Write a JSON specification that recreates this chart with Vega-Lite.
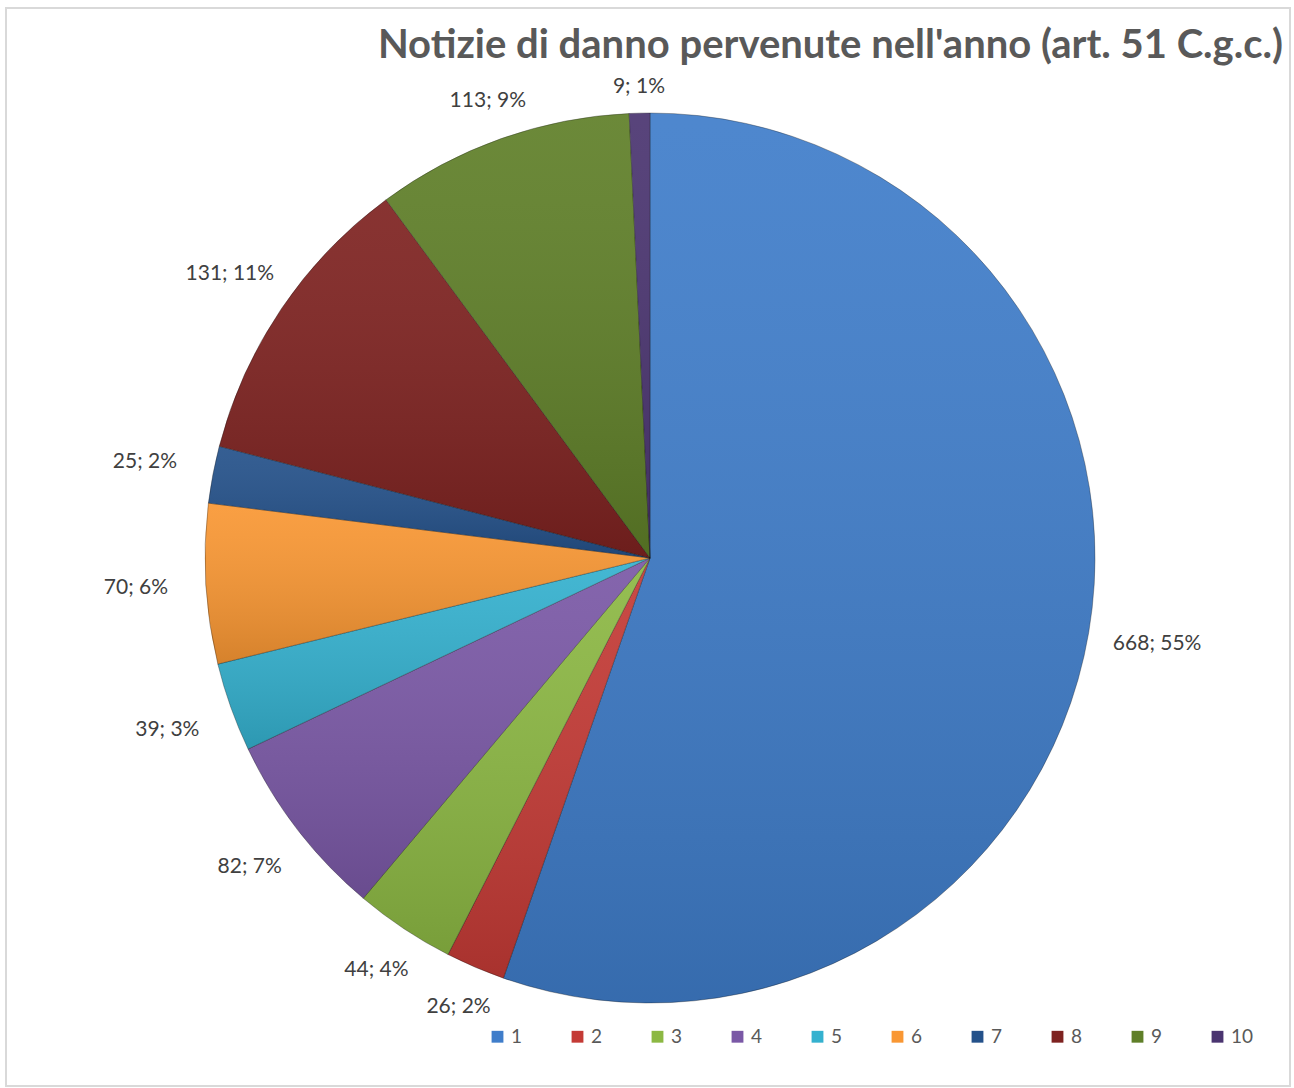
{
  "$schema": "https://vega.github.io/schema/vega-lite/v6.json",
  "width": 1294,
  "height": 1088,
  "autosize": {"type": "fit", "contains": "padding"},
  "padding": {"left": 6, "top": 8, "right": 4, "bottom": 2},
  "background": "white",
  "config": {"view": {"stroke": "#D9D9D9", "strokeWidth": 2}},
  "title": {
    "text": "Notizie di danno pervenute nell'anno (art. 51 C.g.c.)",
    "anchor": "end",
    "fontSize": 40,
    "fontWeight": "bold",
    "font": "Lato",
    "color": "#595959",
    "offset": -58,
    "dx": -7
  },
  "data": {
    "values": [
      {"cat": 1, "value": 668},
      {"cat": 2, "value": 26},
      {"cat": 3, "value": 44},
      {"cat": 4, "value": 82},
      {"cat": 5, "value": 39},
      {"cat": 6, "value": 70},
      {"cat": 7, "value": 25},
      {"cat": 8, "value": 131},
      {"cat": 9, "value": 113},
      {"cat": 10, "value": 9}
    ]
  },
  "transform": [
    {"joinaggregate": [{"op": "sum", "field": "value", "as": "total"}]},
    {"calculate": "datum.value + '; ' + format(datum.value / datum.total, '.0%')", "as": "label"}
  ],
  "encoding": {
    "theta": {"field": "value", "type": "quantitative", "stack": true},
    "order": {"field": "cat", "type": "quantitative"}
  },
  "layer": [
    {
      "mark": {"type": "arc", "outerRadius": 445, "stroke": "rgba(0,0,0,0.3)", "strokeWidth": 1},
      "encoding": {
        "x": {"value": 644},
        "y": {"value": 550},
        "color": {
          "field": "cat",
          "type": "ordinal",
          "scale": {
            "domain": [1, 2, 3, 4, 5, 6, 7, 8, 9, 10],
            "range": ["#3F7DCA", "#C43A35", "#8CB843", "#7A58A6", "#34B1CF", "#F99733", "#24518A", "#7E2220", "#5F7F28", "#4A3470"]
          },
          "legend": {
            "orient": "none",
            "legendX": 482,
            "legendY": 1019,
            "direction": "horizontal",
            "columns": 10,
            "title": null,
            "symbolType": "square",
            "symbolSize": 140,
            "symbolStrokeWidth": 0,
            "labelFontSize": 19,
            "labelFont": "Lato",
            "labelColor": "#595959",
            "columnPadding": 34,
            "gridAlign": "all"
          }
        }
      }
    },
    {
      "mark": {
        "type": "arc",
        "outerRadius": 445,
        "fill": {
          "gradient": "linear",
          "x1": 0, "y1": 0, "x2": 0, "y2": 1,
          "stops": [
            {"offset": 0, "color": "rgba(255,255,255,0.08)"},
            {"offset": 1, "color": "rgba(0,0,0,0.14)"}
          ]
        },
        "strokeWidth": 0
      },
      "encoding": {
        "x": {"value": 644},
        "y": {"value": 550},
        "detail": {"field": "cat", "type": "ordinal"}
      }
    },
    {
      "mark": {
        "type": "text",
        "radius": {"expr": "470 + 45 * abs(sin(PI * (datum.value_start + datum.value_end) / datum.total))"},
        "fontSize": 21,
        "font": "Lato",
        "color": "#404040"
      },
      "encoding": {
        "x": {"value": 644},
        "y": {"value": 550},
        "detail": {"field": "cat", "type": "ordinal"},
        "text": {"field": "label", "type": "nominal"}
      }
    }
  ]
}
